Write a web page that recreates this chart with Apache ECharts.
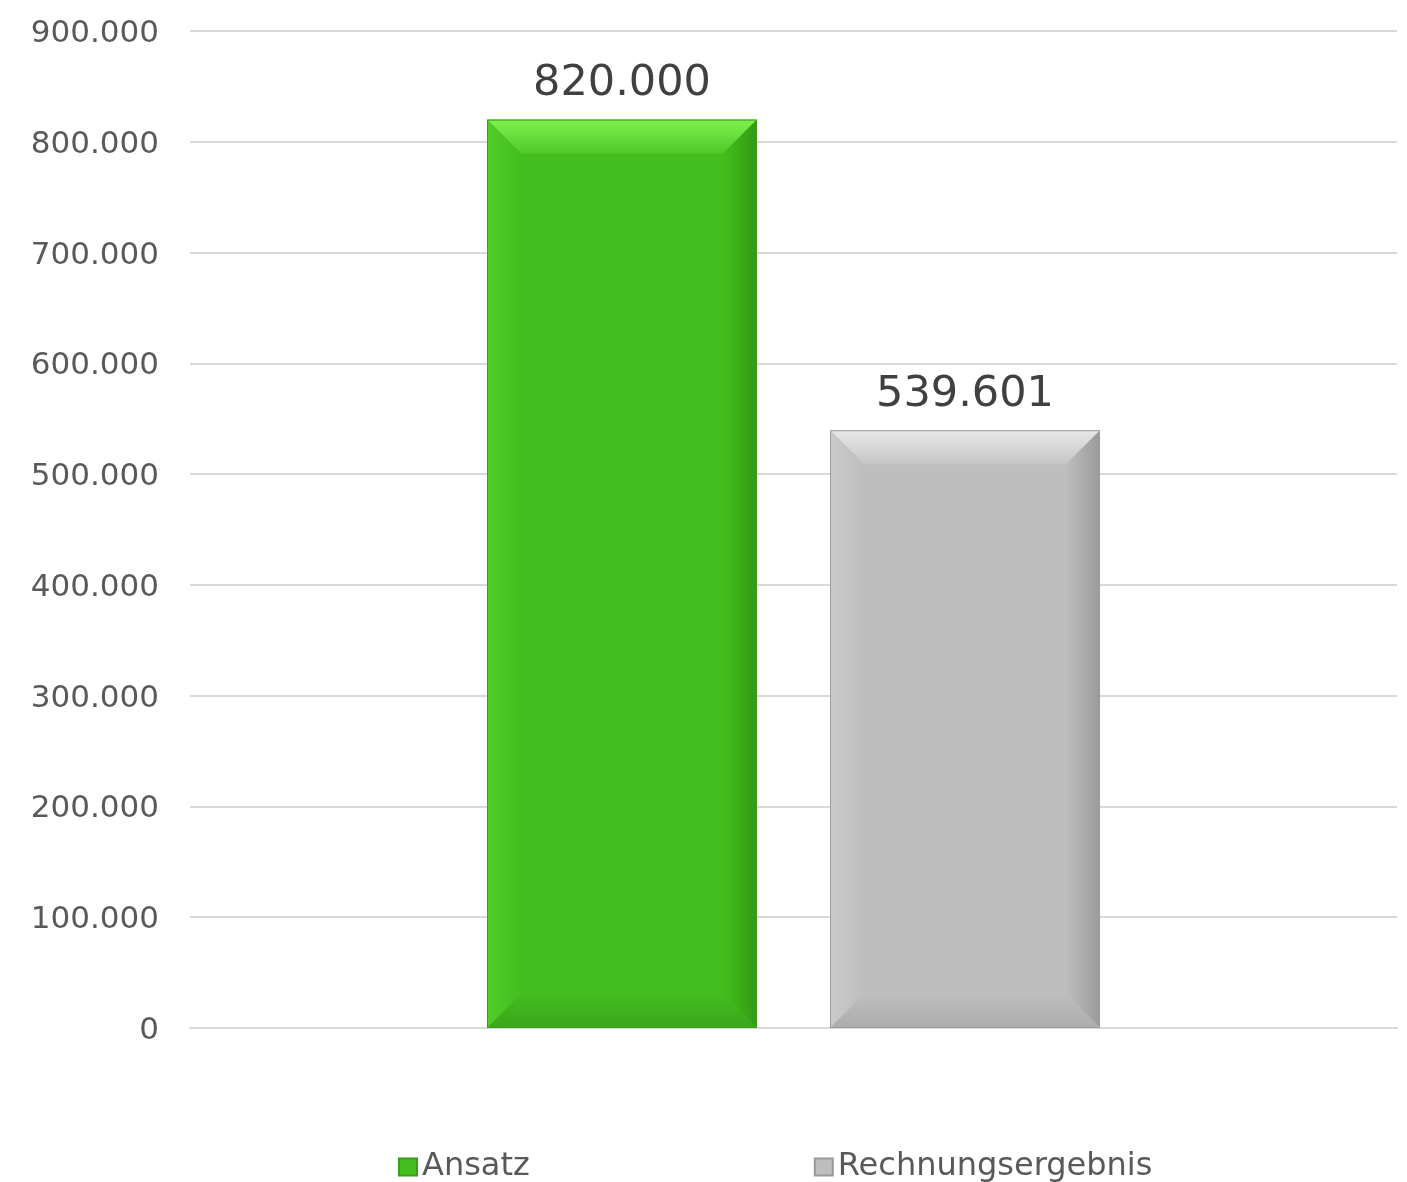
<!DOCTYPE html>
<html>
<head>
<meta charset="utf-8">
<script src="https://cdn.jsdelivr.net/npm/echarts@6/dist/echarts.min.js"></script>
<style>
html,body{margin:0;padding:0;background:#fff;}
#chart{width:1407px;height:1182px;}
</style>
</head>
<body>
<div id="chart"></div>
<script>
const categories = [''];
const seriesNames = ['Ansatz', 'Rechnungsergebnis'];
const ansatzValues = [820000];
const rechnungValues = [539601];
const yMin = 0, yMax = 900000, yInterval = 100000;

function fmt(v) {
  return String(Math.round(v)).replace(/\B(?=(\d{3})+(?!\d))/g, '.');
}

const BAR_W = 270, BAR_GAP = 73, BEVEL = 34;
const palettes = [
  {main: '#44be1e', top1: '#80f24f', top2: '#4fc828', left: '#52cc2a', right: '#329a12', bottom: '#3aa51a', border: '#3a9e18'},
  {main: '#bebebe', top1: '#e8e8e8', top2: '#c6c6c6', left: '#cacaca', right: '#9a9a9a', bottom: '#adadad', border: '#9a9a9a'}
];

function lin(x, y, x2, y2, c1, c2) {
  return {type: 'linear', x: x, y: y, x2: x2, y2: y2, colorStops: [{offset: 0, color: c1}, {offset: 1, color: c2}]};
}

function makeRender(seriesIdx) {
  return function (params, api) {
    const v = api.value(1);
    const top = api.coord([api.value(0), v]);
    const base = api.coord([api.value(0), 0]);
    const groupW = BAR_W * 2 + BAR_GAP;
    const x0 = top[0] - groupW / 2 + seriesIdx * (BAR_W + BAR_GAP);
    const x1 = x0 + BAR_W;
    const y0 = top[1], y1 = base[1];
    const b = Math.min(BEVEL, (y1 - y0) / 2);
    const p = palettes[seriesIdx];
    const ix0 = x0 + b, ix1 = x1 - b, iy0 = y0 + b, iy1 = y1 - b;
    return {
      type: 'group',
      children: [
        {type: 'rect', shape: {x: x0, y: y0, width: BAR_W, height: y1 - y0}, style: {fill: p.main}},
        {type: 'polygon', shape: {points: [[x0, y0], [x1, y0], [ix1, iy0], [ix0, iy0]]},
          style: {fill: lin(0, 0, 0, 1, p.top1, p.top2)}},
        {type: 'polygon', shape: {points: [[x0, y0], [ix0, iy0], [ix0, iy1], [x0, y1]]},
          style: {fill: lin(0, 0, 1, 0, p.left, p.main)}},
        {type: 'polygon', shape: {points: [[x1, y0], [x1, y1], [ix1, iy1], [ix1, iy0]]},
          style: {fill: lin(0, 0, 1, 0, p.main, p.right)}},
        {type: 'polygon', shape: {points: [[x0, y1], [ix0, iy1], [ix1, iy1], [x1, y1]]},
          style: {fill: lin(0, 0, 0, 1, p.main, p.bottom)}},
        {type: 'rect', shape: {x: x0 + 0.5, y: y0 + 0.5, width: BAR_W - 1, height: y1 - y0 - 1},
          style: {fill: null, stroke: p.border, lineWidth: 1}},
        {type: 'text', x: (x0 + x1) / 2, y: y0 - 14,
          style: {text: fmt(v), textAlign: 'center', textVerticalAlign: 'bottom',
            fontFamily: 'DejaVu Sans', fontSize: 43, fill: '#404040'}}
      ]
    };
  };
}

const chart = echarts.init(document.getElementById('chart'), null, {renderer: 'canvas'});
chart.setOption({
  animation: false,
  backgroundColor: '#ffffff',
  textStyle: {fontFamily: 'DejaVu Sans'},
  grid: {left: 190, right: 10, top: 31, bottom: 154, containLabel: false},
  legend: {
    data: seriesNames,
    left: 393,
    top: 1146,
    itemWidth: 18,
    itemHeight: 17,
    itemGap: 284,
    icon: 'rect',
    textStyle: {fontFamily: 'DejaVu Sans', fontSize: 32, color: '#595959'}
  },
  xAxis: {
    type: 'category',
    data: categories,
    axisLine: {show: true, lineStyle: {color: '#d9d9d9', width: 2}},
    axisTick: {show: false},
    axisLabel: {show: false}
  },
  yAxis: {
    type: 'value',
    min: yMin, max: yMax, interval: yInterval,
    axisLine: {show: false},
    axisTick: {show: false},
    splitLine: {lineStyle: {color: '#d9d9d9', width: 2}},
    axisLabel: {
      fontFamily: 'DejaVu Sans', fontSize: 31, color: '#595959', margin: 31,
      formatter: v => '{a|' + fmt(v) + '}',
      rich: {a: {fontFamily: 'DejaVu Sans', fontSize: 31, color: '#595959', padding: [6, 0, 0, 0]}}
    }
  },
  series: [
    {
      name: 'Ansatz', type: 'custom',
      data: categories.map((c, i) => [i, ansatzValues[i]]),
      itemStyle: {color: '#44be1e', borderColor: '#3a9e18', borderWidth: 1},
      renderItem: makeRender(0)
    },
    {
      name: 'Rechnungsergebnis', type: 'custom',
      data: categories.map((c, i) => [i, rechnungValues[i]]),
      itemStyle: {color: '#bebebe', borderColor: '#9a9a9a', borderWidth: 1},
      renderItem: makeRender(1)
    }
  ]
});
</script>
</body>
</html>
